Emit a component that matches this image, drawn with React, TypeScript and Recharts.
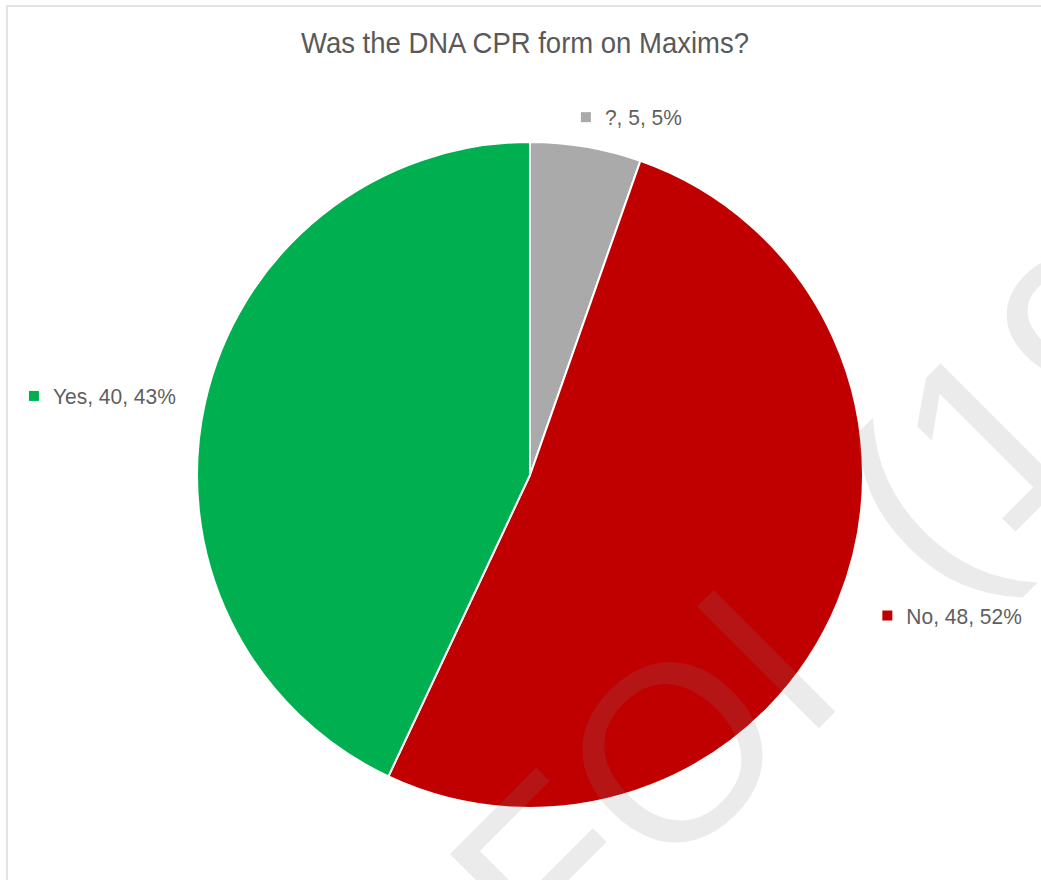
import React from "react";
import { PieChart, Pie, Cell } from "recharts";

const categories = ["?", "No", "Yes"];
const counts = [5, 48, 40];
const colors = ["#aaaaaa", "#c00000", "#00b050"];

const title = "Was the DNA CPR form on Maxims?";
const watermark = "FOI (19";

const data = categories.map((name, i) => ({ name, value: counts[i] }));

const RADIAN = Math.PI / 180;
const FONT = '"Liberation Sans", Arial, sans-serif';
const LABEL_SIZE = 21;

let ctx: CanvasRenderingContext2D | null = null;
const measure = (s: string) => {
  if (!ctx) ctx = document.createElement("canvas").getContext("2d");
  if (!ctx) return s.length * 10;
  ctx.font = `${LABEL_SIZE}px ${FONT}`;
  return ctx.measureText(s).width;
};

// label box sits outside the slice, marker square first then the text
const renderLabel = (props: any) => {
  const { cx, cy, midAngle, outerRadius, name, value, percent, index } = props;
  const d = outerRadius + 38;
  const cos = Math.cos(-midAngle * RADIAN);
  const sin = Math.sin(-midAngle * RADIAN);
  const px = cx + d * cos;
  const py = cy + d * sin;
  const text = `${name}, ${value}, ${Math.round(percent * 100)}%`;
  const w = measure(text);
  const right = px >= cx;
  const left = right ? px - 16 + 27 * Math.abs(cos) : px + 8 - w - 24;
  const yc = py + 8 * Math.max(0, -sin);
  return (
    <g key={`lbl-${index}`}>
      <rect x={left} y={yc - 5} width={10} height={10} fill={colors[index]} />
      <text
        transform={`translate(${left + 24},${yc + 8}) scale(1,1.08)`}
        fontFamily={FONT}
        fontSize={LABEL_SIZE}
        fill="#5f5f5f"
      >
        {text}
      </text>
    </g>
  );
};

export default function App() {
  return (
    <div
      style={{
        position: "absolute",
        left: 0,
        top: 0,
        width: 1041,
        height: 880,
        overflow: "hidden",
        background: "#fff",
      }}
    >
      <div
        style={{
          position: "absolute",
          left: 6,
          top: 5,
          width: 1100,
          height: 1000,
          border: "2px solid #e3e3e3",
        }}
      />
      <div style={{ position: "absolute", left: 0, top: 0 }}>
        <PieChart width={1041} height={880}>
          <text
            transform="translate(525,53) scale(1,1.1)"
            textAnchor="middle"
            fontFamily={FONT}
            fontSize={27.5}
            fill="#595959"
          >
            {title}
          </text>
          <Pie
            data={data}
            dataKey="value"
            nameKey="name"
            cx={525}
            cy={470}
            outerRadius={333}
            startAngle={90}
            endAngle={-270}
            stroke="#ffffff"
            strokeWidth={2}
            label={renderLabel}
            labelLine={false}
            isAnimationActive={false}
          >
            {data.map((d, i) => (
              <Cell key={d.name} fill={colors[i]} />
            ))}
          </Pie>
        </PieChart>
      </div>
      {/* faint diagonal watermark laid over the chart */}
      <svg
        width={1041}
        height={880}
        style={{ position: "absolute", left: 0, top: 0, pointerEvents: "none" }}
      >
        <text
          x={557}
          y={990}
          transform="rotate(-45 557 990)"
          fontFamily={FONT}
          fontSize={250}
          wordSpacing={60}
          fill="#838383"
          fillOpacity={0.16}
        >
          {watermark}
        </text>
      </svg>
    </div>
  );
}
